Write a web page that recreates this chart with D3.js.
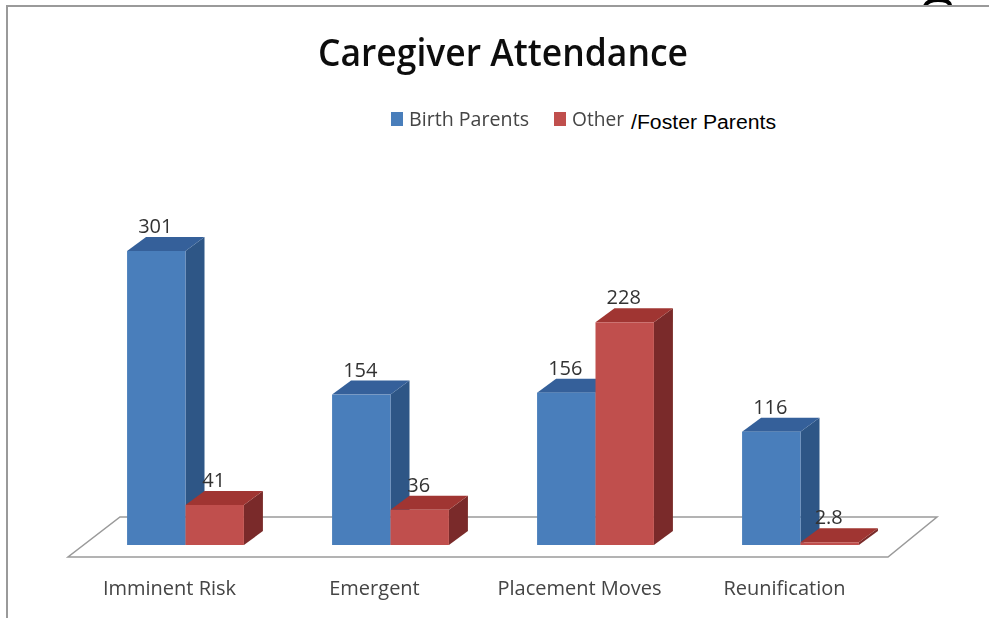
<!DOCTYPE html>
<html>
<head>
<meta charset="utf-8">
<script src="https://cdn.jsdelivr.net/npm/d3@7"></script>
<style>
  html, body { margin: 0; padding: 0; background: #fff; }
  svg { display: block; }
</style>
</head>
<body>
<svg id="chart" width="989" height="618"></svg>
<script>
const categories = ["Imminent Risk", "Emergent", "Placement Moves", "Reunification"];
const seriesNames = ["Birth Parents", "Other"];
const birthParents = [301, 154, 156, 116];
const otherParents = [41, 36, 228, 2.8];
const valueLabels = [["301", "154", "156", "116"], ["41", "36", "228", "2.8"]];
const frontColors = ["#4a7ebb", "#c0504d"];
const topColors = ["#35619a", "#a03530"];
const sideColors = ["#2f5686", "#7a2c2a"];

const svg = d3.select("#chart");
const baseY = 545;
const depthX = 19, depthY = 14;

const x = d3.scaleBand()
  .domain(categories)
  .range([83, 903])
  .paddingInner(0.43)
  .paddingOuter(0.215);

const xInner = d3.scaleBand()
  .domain(seriesNames)
  .range([0, x.bandwidth()]);

const y = d3.scaleLinear()
  .domain([0, 301])
  .range([baseY, 251]);

// the source is a soft screenshot, so most of it gets a slight blur
svg.append("defs").append("filter")
  .attr("id", "soft")
  .append("feGaussianBlur")
  .attr("stdDeviation", 0.45);

const soft = svg.append("g").attr("filter", "url(#soft)");

// stray glyph cut off at the top of the screenshot
svg.append("path")
  .attr("d", "M925,6C927,1 932,0 938,0C945,0 950,1 950,6")
  .attr("fill", "none")
  .attr("stroke", "#000")
  .attr("stroke-width", 4);

// page frame left over from the screenshot
svg.append("path")
  .attr("d", "M7,618V6H989")
  .attr("fill", "none")
  .attr("stroke", "#9a9a9a")
  .attr("stroke-width", 2);

// floor of the 3d plot
soft.append("polygon")
  .attr("points", "68,557 888,557 937,517 120,517")
  .attr("fill", "#fff")
  .attr("stroke", "#9a9a9a")
  .attr("stroke-width", 1.5);

// bars, one group per category
const rows = categories.map((c, i) => [
  { cat: c, s: 0, value: birthParents[i], label: valueLabels[0][i] },
  { cat: c, s: 1, value: otherParents[i], label: valueLabels[1][i] }
]).flat();

const bars = soft.append("g").selectAll("g")
  .data(rows)
  .join("g");

const left = d => x(d.cat) + xInner(seriesNames[d.s]);
const right = d => left(d) + xInner.bandwidth();

bars.append("polygon")
  .attr("fill", d => sideColors[d.s])
  .attr("points", d => [
    [right(d), baseY], [right(d) + depthX, baseY - depthY],
    [right(d) + depthX, y(d.value) - depthY], [right(d), y(d.value)]
  ].join(" "));

bars.append("polygon")
  .attr("fill", d => topColors[d.s])
  .attr("points", d => [
    [left(d), y(d.value)], [left(d) + depthX, y(d.value) - depthY],
    [right(d) + depthX, y(d.value) - depthY], [right(d), y(d.value)]
  ].join(" "));

bars.append("rect")
  .attr("x", left)
  .attr("y", d => y(d.value))
  .attr("width", xInner.bandwidth())
  .attr("height", d => baseY - y(d.value))
  .attr("fill", d => frontColors[d.s]);

// value labels sit above the top face
soft.append("g").selectAll("text")
  .data(rows)
  .join("text")
  .attr("x", d => left(d) + xInner.bandwidth() / 2 - 1)
  .attr("y", d => y(d.value) - 18)
  .attr("text-anchor", "middle")
  .attr("font-family", "'Open Sans', sans-serif")
  .attr("font-size", 20)
  .attr("fill", "#333")
  .text(d => d.label);

// category labels
soft.append("g").selectAll("text")
  .data(categories)
  .join("text")
  .attr("x", d => x(d) + x.bandwidth() / 2 - 16)
  .attr("y", 595)
  .attr("text-anchor", "middle")
  .attr("font-family", "'Open Sans', sans-serif")
  .attr("font-size", 20)
  .attr("fill", "#444")
  .text(d => d);

// title
soft.append("text")
  .attr("x", 318)
  .attr("y", 66)
  .attr("textLength", 370)
  .attr("lengthAdjust", "spacingAndGlyphs")
  .attr("font-family", "'Open Sans', sans-serif")
  .attr("font-weight", 600)
  .attr("font-size", 38)
  .attr("fill", "#111")
  .text("Caregiver Attendance");

// legend
const legendX = [391, 554];
const legendTextX = [409, 572];
const legendWidth = [120, 52];
seriesNames.forEach((name, i) => {
  soft.append("rect")
    .attr("x", legendX[i])
    .attr("y", 112)
    .attr("width", 12)
    .attr("height", 14)
    .attr("fill", frontColors[i]);
  soft.append("text")
    .attr("x", legendTextX[i])
    .attr("y", 125.5)
    .attr("textLength", legendWidth[i])
    .attr("lengthAdjust", "spacingAndGlyphs")
    .attr("font-family", "'Open Sans', sans-serif")
    .attr("font-size", 20)
    .attr("fill", "#444")
    .text(name);
});

svg.append("text")
  .attr("x", 631)
  .attr("y", 129)
  .attr("textLength", 145)
  .attr("lengthAdjust", "spacingAndGlyphs")
  .attr("font-family", "'Liberation Sans', Arial, sans-serif")
  .attr("font-size", 20)
  .attr("fill", "#000")
  .text("/Foster Parents");
</script>
</body>
</html>
